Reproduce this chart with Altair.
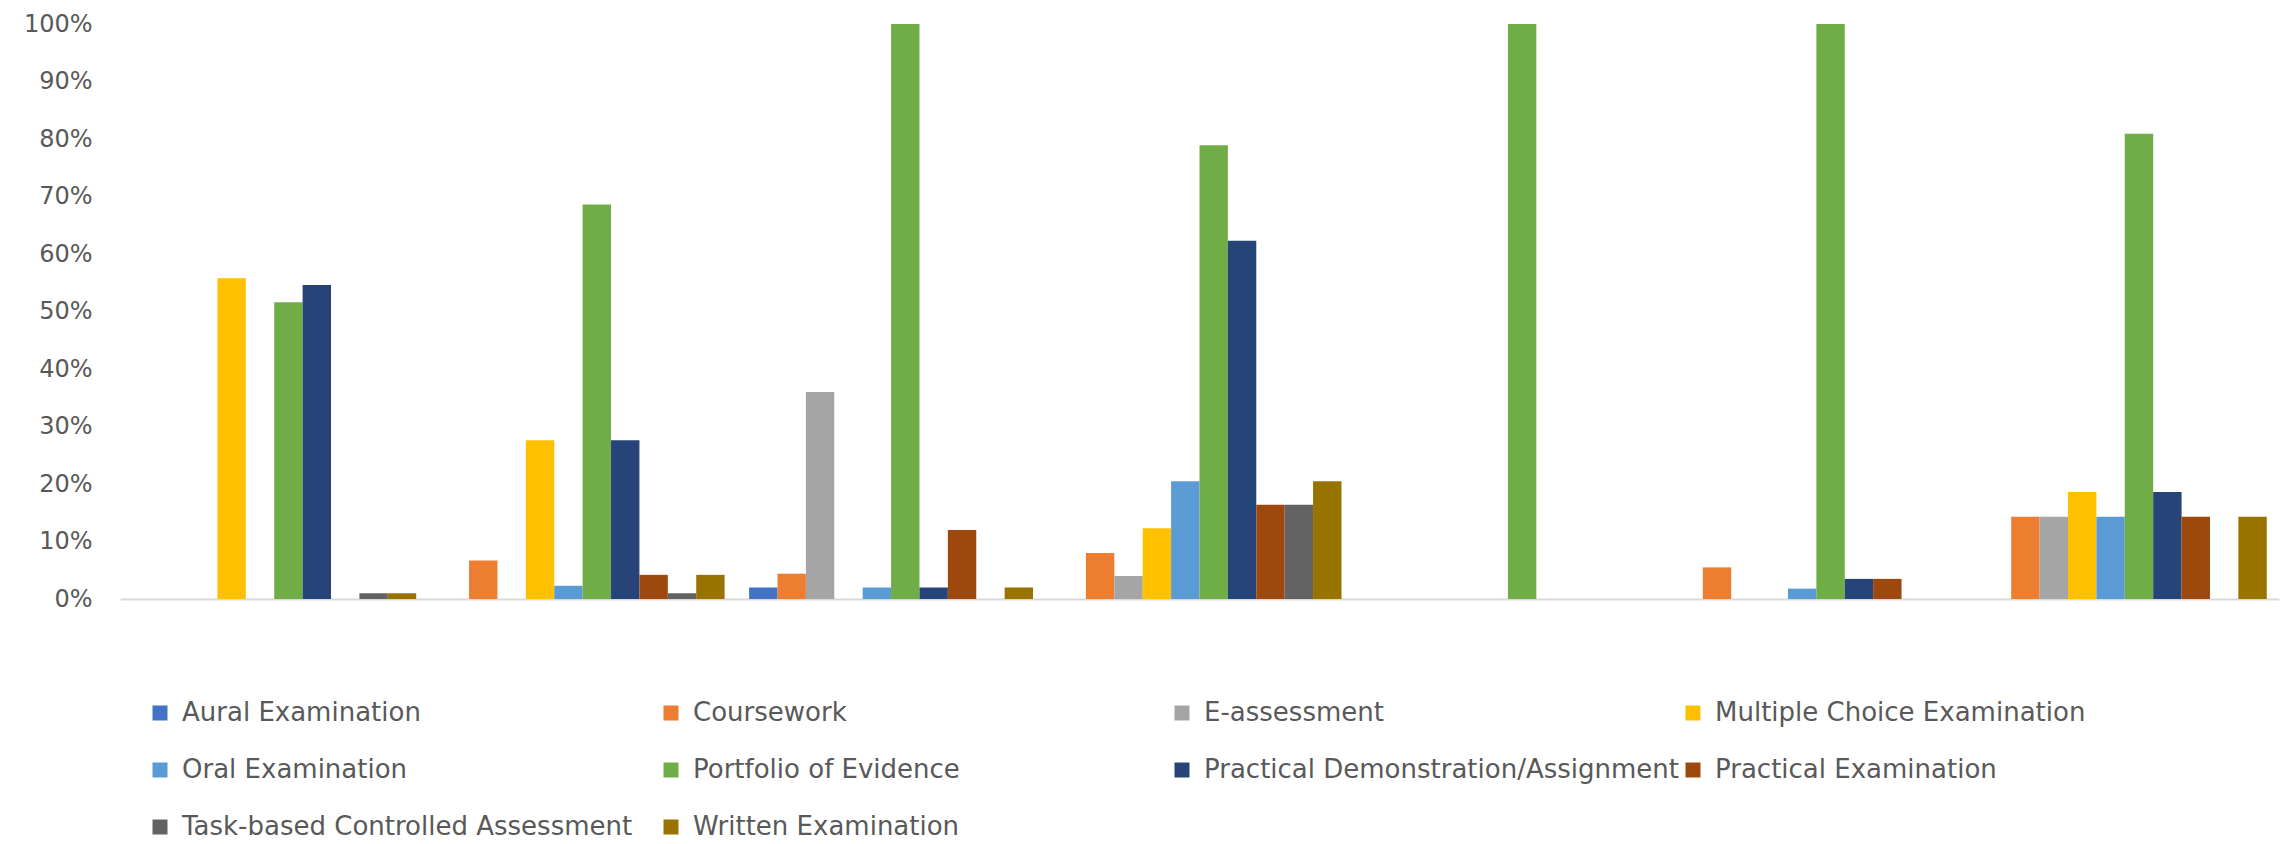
import altair as alt
import pandas as pd

groups = ["Group 1", "Group 2", "Group 3", "Group 4", "Group 5", "Group 6", "Group 7"]

series = [
    "Aural Examination",
    "Coursework",
    "E-assessment",
    "Multiple Choice Examination",
    "Oral Examination",
    "Portfolio of Evidence",
    "Practical Demonstration/Assignment",
    "Practical Examination",
    "Task-based Controlled Assessment",
    "Written Examination",
]

colors = ["#4472C4", "#ED7D31", "#A5A5A5", "#FFC000", "#5B9BD5",
          "#70AD47", "#264478", "#9E480E", "#636363", "#997300"]

aural = [0, 0, 0.02, 0, 0, 0, 0]
coursework = [0, 0.067, 0.044, 0.08, 0, 0.055, 0.143]
e_assessment = [0, 0, 0.36, 0.04, 0, 0, 0.143]
multiple_choice = [0.558, 0.276, 0, 0.123, 0, 0, 0.186]
oral = [0, 0.023, 0.02, 0.205, 0, 0.018, 0.143]
portfolio = [0.516, 0.686, 1.0, 0.789, 1.0, 1.0, 0.809]
practical_demo = [0.546, 0.276, 0.02, 0.623, 0, 0.035, 0.186]
practical_exam = [0, 0.042, 0.12, 0.164, 0, 0.035, 0.143]
task_based = [0.01, 0.01, 0, 0.164, 0, 0, 0]
written = [0.01, 0.042, 0.02, 0.205, 0, 0, 0.143]

y_ticks = [0, 0.1, 0.2, 0.3, 0.4, 0.5, 0.6, 0.7, 0.8, 0.9, 1.0]

values_by_series = [aural, coursework, e_assessment, multiple_choice, oral,
                    portfolio, practical_demo, practical_exam, task_based, written]

rows = []
for s, vals in zip(series, values_by_series):
    for g, v in zip(groups, vals):
        rows.append({"group": g, "series": s, "value": v})
df = pd.DataFrame(rows)

FONT = "DejaVu Sans"
TXT = "#595959"

chart = alt.Chart(df).mark_bar().encode(
    x=alt.X("group:N", sort=groups,
            scale=alt.Scale(paddingInner=0.0794, paddingOuter=0.0397),
            axis=alt.Axis(title=None, labels=False, ticks=False, domain=True,
                          domainColor="#D9D9D9", domainWidth=2)),
    xOffset=alt.XOffset("series:N", sort=series,
                        scale=alt.Scale(paddingInner=0, paddingOuter=0)),
    y=alt.Y("value:Q", scale=alt.Scale(domain=[0, 1], nice=False),
            axis=alt.Axis(title=None, format=".0%", values=y_ticks, grid=False,
                          domain=False, ticks=False, labelFontSize=24,
                          labelFont=FONT, labelColor=TXT, labelPadding=28)),
    color=alt.Color("series:N", sort=series,
                    scale=alt.Scale(domain=series, range=colors),
                    legend=alt.Legend(title=None, orient="none", legendX=27, legendY=676,
                                      direction="horizontal",
                                      columns=4, gridAlign="all", columnPadding=0,
                                      rowPadding=31, symbolType="square", symbolSize=225,
                                      symbolStrokeWidth=0, labelFontSize=26,
                                      labelFont=FONT, labelColor=TXT, labelOffset=9,
                                      labelLimit=1000)),
).properties(
    width=2159,
    height=575,
    autosize=alt.AutoSizeParams(type="none"),
    padding={"left": 120, "top": 24, "right": 6, "bottom": 245},
).configure_view(stroke=None)

chart.save("out.html", embed_options={"renderer": "svg", "actions": False})
